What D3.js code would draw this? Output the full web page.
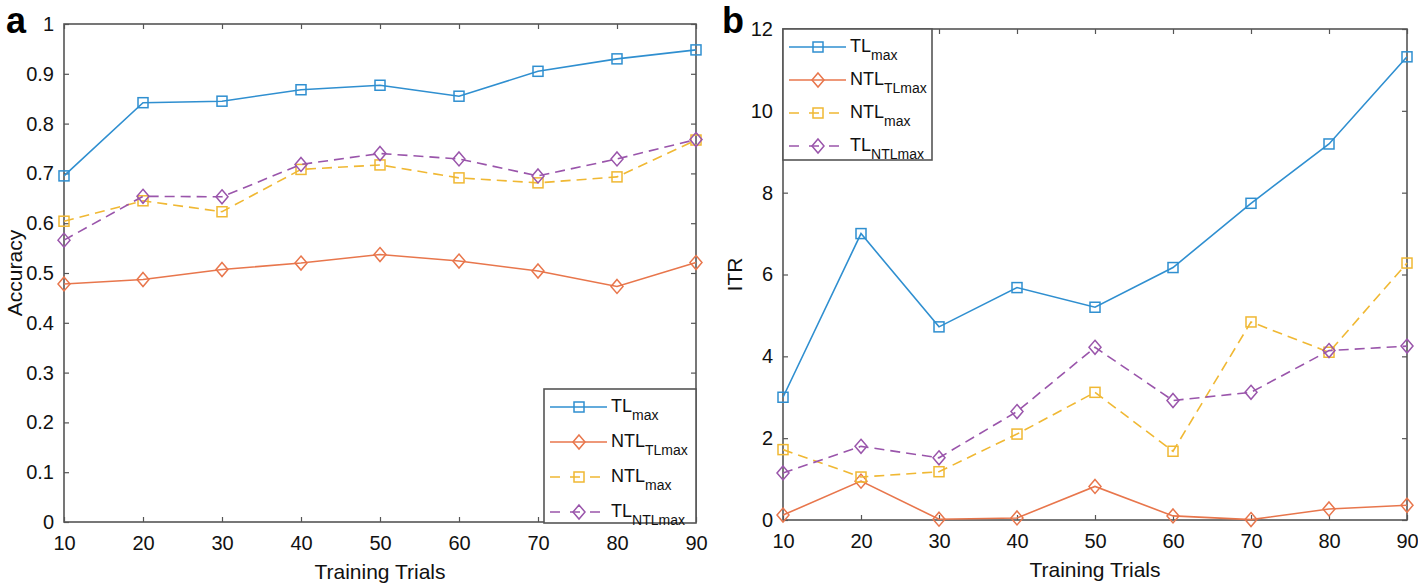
<!DOCTYPE html>
<html>
<head>
<meta charset="utf-8">
<script src="https://cdn.jsdelivr.net/npm/d3@7"></script>
<style>
  body { margin: 0; background: #fff; }
  svg { font-family: "Liberation Sans", Arial, sans-serif; }
</style>
</head>
<body>
<svg width="1418" height="585"></svg>
<script>
// data
const trials = [10, 20, 30, 40, 50, 60, 70, 80, 90];

const accTLmax     = [0.695, 0.842, 0.845, 0.868, 0.877, 0.855, 0.905, 0.930, 0.948];
const accNTLTLmax  = [0.478, 0.487, 0.507, 0.520, 0.537, 0.524, 0.504, 0.473, 0.521];
const accNTLmax    = [0.604, 0.645, 0.623, 0.708, 0.717, 0.691, 0.681, 0.693, 0.767];
const accTLNTLmax  = [0.566, 0.654, 0.653, 0.718, 0.740, 0.729, 0.695, 0.729, 0.768];

const itrTLmax     = [3.00, 7.00, 4.72, 5.68, 5.20, 6.17, 7.74, 9.19, 11.32];
const itrNTLTLmax  = [0.12, 0.95, 0.02, 0.05, 0.82, 0.10, 0.01, 0.27, 0.36];
const itrNTLmax    = [1.72, 1.05, 1.18, 2.10, 3.12, 1.68, 4.84, 4.10, 6.28];
const itrTLNTLmax  = [1.15, 1.80, 1.52, 2.65, 4.22, 2.92, 3.12, 4.14, 4.25];

const accTicks = [0, 0.1, 0.2, 0.3, 0.4, 0.5, 0.6, 0.7, 0.8, 0.9, 1];
const itrTicks = [0, 2, 4, 6, 8, 10, 12];

const seriesNames = [["TL", "max"], ["NTL", "TLmax"], ["NTL", "max"], ["TL", "NTLmax"]];
const seriesColors = ["#2f8fd0", "#e8764c", "#f0b833", "#9a55ab"];
const seriesMarks = ["square", "diamond", "square", "diamond"];
const seriesDash = [null, null, "10,6", "10,6"];

const svg = d3.select("svg");

function marker(g, type, x, y, color) {
  if (type === "square") {
    g.append("rect")
      .attr("x", x - 5).attr("y", y - 5)
      .attr("width", 10).attr("height", 10)
      .attr("fill", "none").attr("stroke", color).attr("stroke-width", 1.5);
  } else {
    g.append("path")
      .attr("d", `M${x},${y - 7}L${x + 6},${y}L${x},${y + 7}L${x - 6},${y}Z`)
      .attr("fill", "none").attr("stroke", color).attr("stroke-width", 1.5);
  }
}

function panel(opt) {
  const x = d3.scaleLinear().domain([10, 90]).range([opt.left, opt.right]);
  const y = d3.scaleLinear().domain(opt.domain).range([opt.bottom, opt.top]);
  const g = svg.append("g");

  // axes with inward ticks (matlab box style)
  const axisColor = "#555";
  g.append("g").attr("transform", `translate(0,${opt.bottom})`)
    .call(d3.axisBottom(x).tickValues(trials).tickSizeInner(-5).tickSizeOuter(0).tickPadding(14))
    .call(a => a.select(".domain").remove());
  g.append("g").attr("transform", `translate(0,${opt.top})`)
    .call(d3.axisTop(x).tickValues(trials).tickSizeInner(-5).tickSizeOuter(0).tickFormat(""))
    .call(a => a.select(".domain").remove());
  g.append("g").attr("transform", `translate(${opt.left},0)`)
    .call(d3.axisLeft(y).tickValues(opt.ticks).tickSizeInner(-5).tickSizeOuter(0).tickPadding(10).tickFormat(opt.fmt))
    .call(a => a.select(".domain").remove());
  g.append("g").attr("transform", `translate(${opt.right},0)`)
    .call(d3.axisRight(y).tickValues(opt.ticks).tickSizeInner(-5).tickSizeOuter(0).tickFormat(""))
    .call(a => a.select(".domain").remove());
  g.selectAll(".tick line").attr("stroke", axisColor).attr("stroke-width", 1.2);
  g.selectAll(".tick text").attr("font-size", 20).attr("fill", "#111")
    .attr("font-family", "Liberation Sans, Arial, sans-serif");

  g.append("rect")
    .attr("x", opt.left).attr("y", opt.top)
    .attr("width", opt.right - opt.left).attr("height", opt.bottom - opt.top)
    .attr("fill", "none").attr("stroke", axisColor).attr("stroke-width", 1.6);

  // lines + markers
  const line = d3.line().x((d, i) => x(trials[i])).y(d => y(d));
  opt.series.forEach((vals, k) => {
    g.append("path").datum(vals)
      .attr("d", line)
      .attr("fill", "none")
      .attr("stroke", seriesColors[k])
      .attr("stroke-width", 1.6)
      .attr("stroke-dasharray", seriesDash[k]);
    vals.forEach((v, i) => marker(g, seriesMarks[k], x(trials[i]), y(v), seriesColors[k]));
  });

  // labels
  g.append("text")
    .attr("x", (opt.left + opt.right) / 2).attr("y", opt.bottom + 57)
    .attr("text-anchor", "middle").attr("font-size", 21).attr("fill", "#111")
    .text("Training Trials");
  g.append("text")
    .attr("transform", `translate(${opt.ylabX},${(opt.top + opt.bottom) / 2}) rotate(-90)`)
    .attr("text-anchor", "middle").attr("font-size", 21).attr("fill", "#111")
    .text(opt.ylab);
  g.append("text")
    .attr("x", opt.tagX).attr("y", 33)
    .attr("font-size", 36).attr("font-weight", "bold").attr("fill", "#000")
    .text(opt.tag);

  // legend
  const L = opt.legend;
  const lg = g.append("g");
  lg.append("rect")
    .attr("x", L.x).attr("y", L.y).attr("width", L.w).attr("height", L.h)
    .attr("fill", "#fff").attr("stroke", axisColor).attr("stroke-width", 1.6);
  seriesNames.forEach((nm, k) => {
    const ry = L.y + 18 + k * L.step;
    lg.append("line")
      .attr("x1", L.x + 6).attr("x2", L.x + 63)
      .attr("y1", ry).attr("y2", ry)
      .attr("stroke", seriesColors[k]).attr("stroke-width", 1.6)
      .attr("stroke-dasharray", seriesDash[k] ? "10,10" : null);
    marker(lg, seriesMarks[k], L.x + 35, ry, seriesColors[k]);
    const t = lg.append("text")
      .attr("x", L.x + 67).attr("y", ry + 5)
      .attr("font-size", 18).attr("fill", "#111");
    t.append("tspan").text(nm[0]);
    t.append("tspan").attr("dy", 8).attr("font-size", 14).text(nm[1]);
  });
}

panel({
  left: 64, right: 696, top: 24, bottom: 522,
  domain: [0, 1], ticks: accTicks, fmt: d => d3.format("")(d),
  series: [accTLmax, accNTLTLmax, accNTLmax, accTLNTLmax],
  ylab: "Accuracy", ylabX: 22, tag: "a", tagX: 6,
  legend: { x: 544, y: 389, w: 152, h: 134, step: 35 }
});

panel({
  left: 783, right: 1407, top: 29, bottom: 520,
  domain: [0, 12], ticks: itrTicks, fmt: d => d,
  series: [itrTLmax, itrNTLTLmax, itrNTLmax, itrTLNTLmax],
  ylab: "ITR", ylabX: 742, tag: "b", tagX: 722,
  legend: { x: 783, y: 29, w: 149, h: 131, step: 33 }
});
</script>
</body>
</html>
